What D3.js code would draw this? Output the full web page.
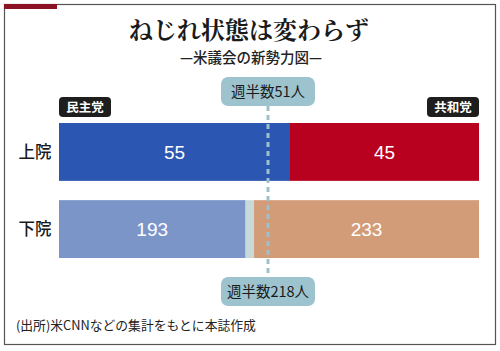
<!DOCTYPE html>
<meta charset="utf-8">
<script src="https://d3js.org/d3.v7.min.js"></script>
<style>
  body { margin: 0; background: #fff; }
  text { font-family: "Noto Sans CJK JP", "Noto Sans", sans-serif; }
</style>
<div id="my_dataviz"></div>
<script>

// data
var chambers = ["上院", "下院"];
var totals = [100, 435];
var demSeats = [55, 193];
var repSeats = [45, 233];
var majority = ["週半数51人", "週半数218人"];
var parties = ["民主党", "共和党"];

var width = 500, height = 351;

var svg = d3.select("#my_dataviz")
  .append("svg")
    .attr("width", width)
    .attr("height", height);

// frame
svg.append("rect")
  .attr("x", 4.5).attr("y", 4.5)
  .attr("width", 491).attr("height", 340)
  .attr("fill", "none")
  .attr("stroke", "#555")
  .attr("stroke-width", 1.2);
svg.append("rect")
  .attr("x", 4).attr("y", 4)
  .attr("width", 53).attr("height", 5)
  .attr("fill", "#8c1326");

// title
svg.append("text")
  .attr("x", 249).attr("y", 39)
  .attr("text-anchor", "middle")
  .style("font-size", "24px")
  .style("font-weight", "bold")
  .style("font-family", "'Noto Serif CJK JP', 'Noto Sans CJK JP', serif")
  .attr("fill", "#1a1a1a")
  .text("ねじれ状態は変わらず");
svg.append("text")
  .attr("x", 251).attr("y", 63)
  .attr("text-anchor", "middle")
  .style("font-size", "14.5px")
  .style("font-weight", "500")
  .attr("fill", "#222")
  .text("—米議会の新勢力図—");

// scales: each bar shows the share of that chamber
var x = d3.scaleLinear().domain([0, 1]).range([59, 479]);
var y = d3.scaleBand().domain(chambers).range([123, 258]).paddingInner(0.25);

var rows = chambers.map(function(c, i) {
  return {chamber: c, total: totals[i], dem: demSeats[i], rep: repSeats[i]};
});

var demColor = ["#2b56b1", "#7b95c9"];
var repColor = ["#b8001f", "#d39c79"];
var vacantColor = "#c7d9da";

rows.forEach(function(d, i) {
  var y0 = y(d.chamber), h = y.bandwidth();
  var demEnd = x(d.dem / d.total);
  var repStart = x(1 - d.rep / d.total);
  // vacant seats (gap)
  svg.append("rect")
    .attr("x", demEnd).attr("y", y0)
    .attr("width", repStart - demEnd).attr("height", h)
    .attr("fill", vacantColor);
  svg.append("rect")
    .attr("x", x(0)).attr("y", y0)
    .attr("width", demEnd - x(0)).attr("height", h)
    .attr("fill", demColor[i]);
  svg.append("rect")
    .attr("x", repStart).attr("y", y0)
    .attr("width", x(1) - repStart).attr("height", h)
    .attr("fill", repColor[i]);

  [[(x(0) + demEnd) / 2, d.dem], [(repStart + x(1)) / 2, d.rep]].forEach(function(v) {
    svg.append("text")
      .attr("x", v[0]).attr("y", y0 + h / 2 + 7)
      .attr("text-anchor", "middle")
      .style("font-family", "'Liberation Sans', Arial, sans-serif")
      .style("font-size", "19px")
      .attr("fill", "#fff")
      .text(v[1]);
  });

  svg.append("text")
    .attr("x", 35).attr("y", y0 + h / 2 + 6)
    .attr("text-anchor", "middle")
    .style("font-size", "16.5px")
    .style("font-weight", "500")
    .attr("fill", "#1a1a1a")
    .text(d.chamber);
});

// majority line
var midX = 268;
svg.append("line")
  .attr("x1", midX).attr("x2", midX)
  .attr("y1", 106).attr("y2", 278)
  .attr("stroke", "#9dc1cc")
  .attr("stroke-width", 3)
  .attr("stroke-dasharray", "5,4");

// majority badges
[{label: majority[0], y: 77}, {label: majority[1], y: 277}].forEach(function(b) {
  svg.append("rect")
    .attr("x", 221).attr("y", b.y)
    .attr("width", 94).attr("height", 29)
    .attr("rx", 7)
    .attr("fill", "#9dc3ce");
  svg.append("text")
    .attr("x", 268).attr("y", b.y + 20)
    .attr("text-anchor", "middle")
    .style("font-size", "14.5px")
    .attr("fill", "#1a1a1a")
    .text(b.label);
});

// party badges
[{label: parties[0], x: 59}, {label: parties[1], x: 427}].forEach(function(p) {
  svg.append("rect")
    .attr("x", p.x).attr("y", 97)
    .attr("width", 52).attr("height", 20)
    .attr("rx", 4)
    .attr("fill", "#1e1e1e");
  svg.append("text")
    .attr("x", p.x + 26).attr("y", 112)
    .attr("text-anchor", "middle")
    .style("font-size", "12.5px")
    .style("font-weight", "bold")
    .attr("fill", "#fff")
    .text(p.label);
});

// source
svg.append("text")
  .attr("x", 16).attr("y", 330)
  .style("font-size", "12.8px")
  .attr("fill", "#222")
  .text("(出所)米CNNなどの集計をもとに本誌作成");

</script>
